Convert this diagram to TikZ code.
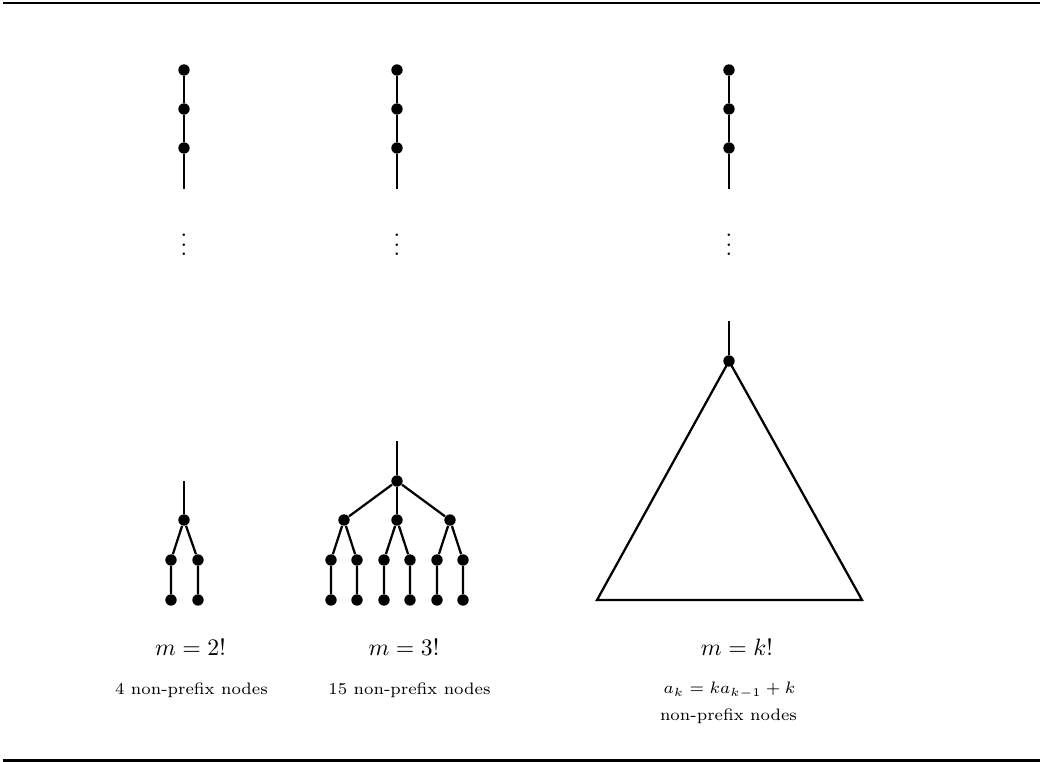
\documentclass[tikz,border=0pt]{standalone}
\begin{document}
\begin{tikzpicture}[x=0.422pt,y=-0.422pt,
  dot/.style={circle,fill=black,inner sep=0pt,minimum size=4.8pt},
  edge/.style={line width=0.95pt},
  rule/.style={line width=1.1pt},
  captext/.style={font=\scriptsize,inner sep=0pt}]
\useasboundingbox (0,0) rectangle (1042,762);
% rules
\coordinate (tl) at (3,3); \coordinate (tr) at (1040,3);
\coordinate (bl) at (3,760.5); \coordinate (br) at (1040,760.5);
\draw[rule] (tl) -- (tr);
\draw[rule] (bl) -- (br);
% top chains
\foreach \c/\x in {a/184,b/397,c/729}{
  \node[dot] (\c1) at (\x,70) {};
  \node[dot] (\c2) at (\x,109) {};
  \node[dot] (\c3) at (\x,148) {};
  \coordinate (\c4) at (\x,189);
  \draw[edge] (\c1) -- (\c2) -- (\c3) -- (\c4);
  \node[inner sep=0pt] (\c v) at (\x,238) {$\vdots$};
}
% tree m=2!
\coordinate (at) at (184,481);
\node[dot] (ar) at (184,520) {};
\node[dot] (ac1) at (171,560) {};
\node[dot] (ac2) at (198,560) {};
\node[dot] (al1) at (171,600) {};
\node[dot] (al2) at (198,600) {};
\draw[edge] (at) -- (ar);
\draw[edge] (ar) -- (ac1) -- (al1);
\draw[edge] (ar) -- (ac2) -- (al2);
% tree m=3!
\coordinate (bt) at (397,441);
\node[dot] (br0) at (397,481) {};
\draw[edge] (bt) -- (br0);
\foreach \i/\x in {1/344,2/397,3/450}{
  \node[dot] (bc\i) at (\x,520) {};
  \draw[edge] (br0) -- (bc\i);
}
\foreach \j/\x/\p in {1/331/1,2/357/1,3/384/2,4/410/2,5/437/3,6/463/3}{
  \node[dot] (bg\j) at (\x,560) {};
  \node[dot] (bl\j) at (\x,600) {};
  \draw[edge] (bc\p) -- (bg\j) -- (bl\j);
}
% triangle m=k!
\coordinate (ct) at (729,321);
\node[dot] (cr) at (729,361) {};
\coordinate (cb1) at (597,600);
\coordinate (cb2) at (862,600);
\draw[edge] (ct) -- (cr);
\draw[edge,line join=miter] (cr.center) -- (cb1) -- (cb2) -- cycle;
% labels
\node[inner sep=0pt] (la) at (190.5,647) {$m=2!$};
\node[inner sep=0pt] (lb) at (404,647) {$m=3!$};
\node[inner sep=0pt] (lc) at (737,647) {$m=k!$};
\node[captext] (ca) at (191.5,690) {4 non-prefix nodes};
\node[captext] (cb) at (409.5,690) {15 non-prefix nodes};
\node[captext] (cc1) at (729.5,690) {$a_k = ka_{k-1}+k$};
\node[captext] (cc2) at (728.5,716) {non-prefix nodes};
\end{tikzpicture}
\end{document}
